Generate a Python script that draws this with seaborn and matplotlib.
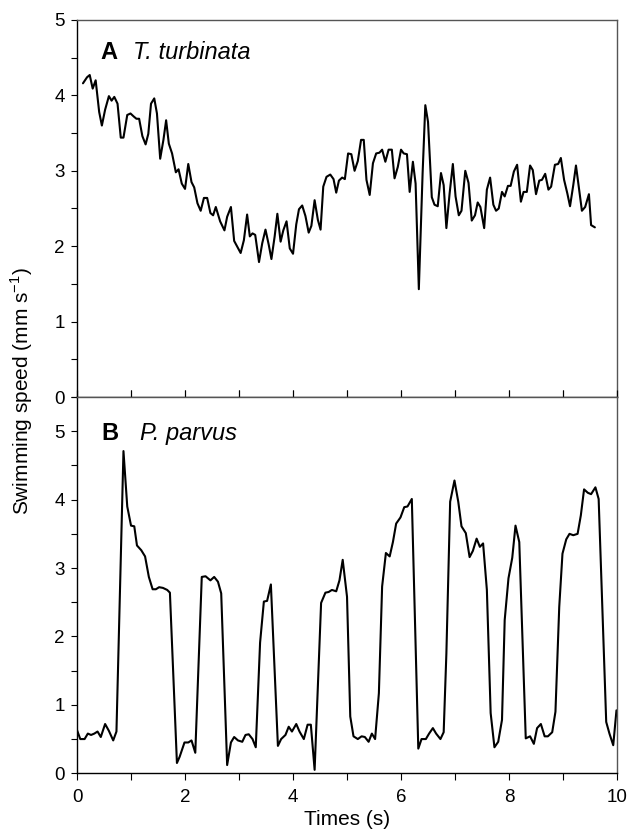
import numpy as np
import pandas as pd
import seaborn as sns
import matplotlib.pyplot as plt
from matplotlib.ticker import MultipleLocator

# Panel A: T. turbinata
time_a = [0.11, 0.185, 0.235, 0.29, 0.345, 0.41, 0.46, 0.52, 0.59, 0.64, 0.69, 0.75, 0.81, 0.86,
          0.93, 0.99, 1.05, 1.10, 1.15, 1.21, 1.27, 1.32, 1.37, 1.43, 1.48, 1.54, 1.60, 1.65,
          1.70, 1.76, 1.83, 1.88, 1.94, 2.00, 2.06, 2.12, 2.17, 2.23, 2.29, 2.35, 2.41, 2.47,
          2.52, 2.57, 2.65, 2.73, 2.78, 2.85, 2.91, 2.97, 3.03, 3.09, 3.15, 3.20, 3.25, 3.30,
          3.37, 3.43, 3.49, 3.55, 3.60, 3.66, 3.71, 3.77, 3.82, 3.88, 3.94, 4.00, 4.06, 4.11,
          4.17, 4.23, 4.29, 4.34, 4.40, 4.46, 4.51, 4.56, 4.62, 4.69, 4.75, 4.80, 4.85, 4.91,
          4.96, 5.02, 5.08, 5.14, 5.20, 5.26, 5.31, 5.36, 5.42, 5.48, 5.54, 5.60, 5.65, 5.71,
          5.77, 5.83, 5.88, 5.94, 6.00, 6.05, 6.11, 6.16, 6.22, 6.27, 6.33, 6.40, 6.45, 6.50,
          6.57, 6.62, 6.68, 6.74, 6.79, 6.84, 6.90, 6.96, 7.01, 7.07, 7.12, 7.19, 7.25, 7.31,
          7.37, 7.42, 7.47, 7.54, 7.59, 7.65, 7.71, 7.76, 7.81, 7.87, 7.92, 7.98, 8.03, 8.09,
          8.15, 8.22, 8.27, 8.33, 8.39, 8.44, 8.50, 8.56, 8.61, 8.67, 8.73, 8.78, 8.85, 8.91,
          8.96, 9.02, 9.08, 9.13, 9.19, 9.24, 9.30, 9.35, 9.41, 9.48, 9.52, 9.59]
speed_a = [4.16, 4.24, 4.27, 4.09, 4.20, 3.78, 3.60, 3.81, 3.99, 3.93, 3.98, 3.89, 3.44, 3.44,
           3.74, 3.76, 3.72, 3.69, 3.69, 3.46, 3.35, 3.49, 3.89, 3.96, 3.76, 3.16, 3.41, 3.67,
           3.36, 3.23, 2.98, 3.02, 2.83, 2.76, 3.09, 2.85, 2.78, 2.57, 2.47, 2.64, 2.64, 2.44,
           2.41, 2.52, 2.33, 2.21, 2.39, 2.52, 2.07, 1.99, 1.91, 2.08, 2.42, 2.13, 2.17, 2.15,
           1.79, 2.04, 2.22, 2.02, 1.83, 2.13, 2.43, 2.06, 2.21, 2.33, 1.97, 1.90, 2.29, 2.49,
           2.54, 2.40, 2.18, 2.27, 2.61, 2.35, 2.22, 2.79, 2.92, 2.95, 2.89, 2.71, 2.87, 2.91,
           2.89, 3.23, 3.22, 3.00, 3.13, 3.41, 3.41, 2.88, 2.68, 3.10, 3.23, 3.24, 3.28, 3.12,
           3.28, 3.28, 2.90, 3.05, 3.28, 3.23, 3.22, 2.72, 3.12, 2.83, 1.43, 2.97, 3.87, 3.65,
           2.65, 2.55, 2.53, 2.97, 2.81, 2.24, 2.70, 3.09, 2.66, 2.41, 2.47, 3.00, 2.84, 2.34,
           2.41, 2.58, 2.52, 2.24, 2.75, 2.91, 2.55, 2.47, 2.50, 2.72, 2.66, 2.80, 2.80, 2.99,
           3.08, 2.59, 2.72, 2.72, 3.07, 3.01, 2.69, 2.87, 2.88, 2.96, 2.75, 2.79, 3.08, 3.09,
           3.17, 2.88, 2.70, 2.53, 2.81, 3.07, 2.74, 2.47, 2.52, 2.69, 2.28, 2.25]

# Panel B: P. parvus
time_b = [0.00, 0.06, 0.14, 0.20, 0.26, 0.32, 0.38, 0.44, 0.52, 0.59, 0.67, 0.73, 0.86, 0.93,
          1.00, 1.06, 1.11, 1.19, 1.26, 1.33, 1.40, 1.46, 1.52, 1.59, 1.67, 1.72, 1.85, 1.90,
          1.99, 2.06, 2.12, 2.19, 2.31, 2.38, 2.47, 2.54, 2.61, 2.67, 2.78, 2.85, 2.91, 2.98,
          3.06, 3.12, 3.18, 3.25, 3.31, 3.39, 3.46, 3.52, 3.59, 3.72, 3.78, 3.86, 3.92, 3.98,
          4.06, 4.12, 4.20, 4.27, 4.33, 4.40, 4.52, 4.60, 4.66, 4.72, 4.80, 4.86, 4.92, 5.00,
          5.06, 5.12, 5.20, 5.27, 5.33, 5.40, 5.46, 5.52, 5.59, 5.65, 5.72, 5.79, 5.85, 5.91,
          5.99, 6.06, 6.12, 6.20, 6.32, 6.38, 6.46, 6.52, 6.59, 6.65, 6.73, 6.79, 6.84, 6.91,
          6.99, 7.06, 7.12, 7.20, 7.27, 7.33, 7.40, 7.46, 7.52, 7.59, 7.66, 7.73, 7.80, 7.87,
          7.92, 7.99, 8.06, 8.12, 8.19, 8.31, 8.39, 8.46, 8.52, 8.59, 8.66, 8.72, 8.80, 8.86,
          8.93, 8.99, 9.06, 9.12, 9.19, 9.27, 9.33, 9.39, 9.46, 9.52, 9.60, 9.66, 9.80, 9.86,
          9.93, 9.99]
speed_b = [0.63, 0.50, 0.50, 0.58, 0.56, 0.58, 0.61, 0.53, 0.72, 0.62, 0.48, 0.61, 4.71, 3.90,
           3.62, 3.61, 3.33, 3.26, 3.17, 2.87, 2.69, 2.69, 2.72, 2.71, 2.68, 2.64, 0.15, 0.24,
           0.45, 0.45, 0.48, 0.30, 2.87, 2.88, 2.82, 2.87, 2.80, 2.63, 0.12, 0.45, 0.53, 0.48,
           0.46, 0.56, 0.57, 0.50, 0.38, 1.91, 2.51, 2.52, 2.76, 0.40, 0.50, 0.56, 0.68, 0.61,
           0.72, 0.61, 0.50, 0.71, 0.71, 0.05, 2.49, 2.64, 2.65, 2.68, 2.66, 2.82, 3.12, 2.58,
           0.83, 0.54, 0.50, 0.54, 0.53, 0.46, 0.58, 0.50, 1.17, 2.73, 3.22, 3.17, 3.38, 3.65,
           3.74, 3.89, 3.90, 4.01, 0.36, 0.50, 0.50, 0.58, 0.66, 0.58, 0.50, 0.60, 1.75, 3.97,
           4.28, 3.97, 3.61, 3.51, 3.16, 3.25, 3.43, 3.31, 3.36, 2.68, 0.88, 0.38, 0.46, 0.78,
           2.24, 2.85, 3.15, 3.62, 3.38, 0.51, 0.54, 0.43, 0.66, 0.72, 0.54, 0.54, 0.60, 0.90,
           2.43, 3.21, 3.42, 3.50, 3.48, 3.50, 3.77, 4.15, 4.10, 4.08, 4.18, 4.01, 0.75, 0.58,
           0.41, 0.92]

df_a = pd.DataFrame({"t": time_a, "v": speed_a})
df_b = pd.DataFrame({"t": time_b, "v": speed_b})

sns.set_style("ticks")
plt.rcParams['font.family'] = ['Liberation Sans', 'DejaVu Sans']
plt.rcParams['mathtext.fontset'] = 'custom'
plt.rcParams['mathtext.rm'] = 'Liberation Sans'
for key in ('text.color', 'axes.labelcolor', 'xtick.color', 'ytick.color'):
    plt.rcParams[key] = 'black'

fig = plt.figure(figsize=(6.34, 8.32), dpi=100)
ax1 = fig.add_axes([0.1215, 0.5228, 0.8517, 0.4532])
ax2 = fig.add_axes([0.1215, 0.0706, 0.8517, 0.4522])

sns.lineplot(data=df_a, x="t", y="v", ax=ax1, color="black", linewidth=1.5, estimator=None, sort=False)
sns.lineplot(data=df_b, x="t", y="v", ax=ax2, color="black", linewidth=1.5, estimator=None, sort=False)

for ax in (ax1, ax2):
    ax.set_xlim(0, 10)
    ax.set_xlabel("")
    ax.set_ylabel("")
    ax.yaxis.set_major_locator(MultipleLocator(1))
    ax.yaxis.set_minor_locator(MultipleLocator(0.5))
    ax.tick_params(axis="y", which="both", direction="out", length=4, width=0.8,
                   labelsize=13.5, pad=5)
    for side in ("top", "right"):
        ax.spines[side].set_visible(True)
        ax.spines[side].set_color("#555555")
    for side in ("left", "bottom"):
        ax.spines[side].set_color("black")
    for s in ax.spines.values():
        s.set_linewidth(1.0)

ax1.set_ylim(0, 5)
ax2.set_ylim(0, 5.5)

# top panel: inward ticks on shared edge, no labels
ax1.xaxis.set_major_locator(MultipleLocator(1))
ax1.tick_params(axis="x", which="both", direction="in", length=5, labelbottom=False)

ax2.xaxis.set_major_locator(MultipleLocator(2))
ax2.xaxis.set_minor_locator(MultipleLocator(1))
ax2.tick_params(axis="x", which="both", direction="out", length=5, width=0.8,
                labelsize=13.5, pad=6)
ax2.tick_params(axis="x", which="both", top=True, labeltop=False)
ax2.set_yticks([0, 1, 2, 3, 4, 5])

ax1.text(0.043, 0.915, "A", transform=ax1.transAxes, fontsize=17, fontweight="bold", va="center")
ax1.text(0.104, 0.915, "T. turbinata", transform=ax1.transAxes, fontsize=17, style="italic", va="center")
ax2.text(0.046, 0.902, "B", transform=ax2.transAxes, fontsize=17, fontweight="bold", va="center")
ax2.text(0.117, 0.902, "P. parvus", transform=ax2.transAxes, fontsize=17, style="italic", va="center")

ax2.set_xlabel("Times (s)", fontsize=15, labelpad=3)
fig.text(0.034, 0.53, "Swimming speed (mm s$^{-1}$)", rotation=90, fontsize=15,
         ha="center", va="center")

fig.savefig("out.png", dpi=100)
